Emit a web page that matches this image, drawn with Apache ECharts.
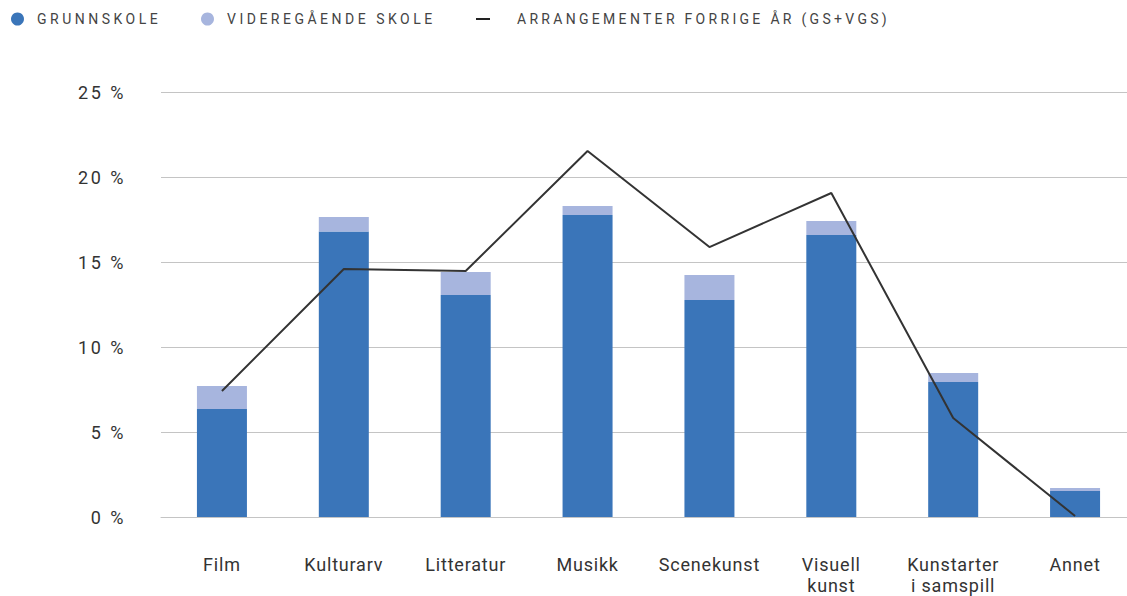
<!DOCTYPE html>
<html><head><meta charset="utf-8">
<style>html,body{margin:0;padding:0;background:#fff}#c{width:1127px;height:596px}</style>
<script src="https://cdn.jsdelivr.net/npm/echarts@6/dist/echarts.min.js"></script>
</head><body><div id="c"></div>
<script>
const categories = ['Film','Kulturarv','Litteratur','Musikk','Scenekunst','Visuell\nkunst','Kunstarter\ni samspill','Annet'];
const grunnskole = [6.35, 16.8, 13.06, 17.76, 12.76, 16.59, 7.94, 1.53];
const videregaende = [1.35, 0.85, 1.35, 0.53, 1.48, 0.82, 0.53, 0.18];
const forrigeAar = [7.41, 14.59, 14.47, 21.53, 15.88, 19.06, 5.82, 0.06];
const yTicks = {min: 0, max: 25, interval: 5};
const names = ['GRUNNSKOLE', 'VIDEREGÅENDE SKOLE', 'ARRANGEMENTER FORRIGE ÅR (GS+VGS)'];

const font = 'Roboto, "Noto Sans", sans-serif';
const chart = echarts.init(document.getElementById('c'), null, {renderer: 'svg'});
const legendBase = {top: 12, padding: 0, itemWidth: 13, itemHeight: 13, selectedMode: false,
  textStyle: {fontFamily: font, fontSize: 14, color: '#444', padding: [0,0,0,8]}};
chart.setOption({
  animation: false,
  textStyle: {fontFamily: font},
  legend: [
    Object.assign({}, legendBase, {left: 11, icon: 'circle', data: [names[0]]}),
    Object.assign({}, legendBase, {left: 201, icon: 'circle', data: [names[1]]}),
    Object.assign({}, legendBase, {left: 476, icon: 'rect', itemWidth: 14, itemHeight: 2, data: [names[2]],
      textStyle: {fontFamily: font, fontSize: 14, color: '#444', padding: [0,0,0,22]}})
  ],
  grid: {left: 161, top: 92, width: 975, height: 425, outerBoundsMode: 'none', containLabel: false},
  xAxis: {
    type: 'category', data: categories,
    axisLine: {show: true, lineStyle: {color: '#c4c4c4', width: 1}},
    axisTick: {show: false},
    axisLabel: {color: '#333', fontSize: 18, lineHeight: 21, margin: 37, interval: 0}
  },
  yAxis: {
    type: 'value', min: yTicks.min, max: yTicks.max, interval: yTicks.interval,
    axisLine: {show: false}, axisTick: {show: false},
    splitLine: {lineStyle: {color: '#c4c4c4', width: 1}},
    axisLabel: {formatter: '{value} %', color: '#333', fontSize: 18, margin: 35}
  },
  series: [
    {name: names[0], type: 'bar', stack: 's', barWidth: 50, data: grunnskole, itemStyle: {color: '#3a75b9'}},
    {name: names[1], type: 'bar', stack: 's', barWidth: 50, data: videregaende, itemStyle: {color: '#a7b5de'}},
    {name: names[2], type: 'line', data: forrigeAar, showSymbol: false, symbol: 'none', z: 5,
      lineStyle: {color: '#333', width: 2}, itemStyle: {color: '#222'}}
  ]
});
document.querySelectorAll('#c svg text').forEach(t => {
  const s = t.textContent;
  if (s === names[2]) t.style.letterSpacing = '3.3px';
  else if (names.includes(s)) t.style.letterSpacing = '3.5px';
  else if (/%$/.test(s)) t.style.letterSpacing = '2.5px';
  else t.style.letterSpacing = '0.8px';
});
</script></body></html>
